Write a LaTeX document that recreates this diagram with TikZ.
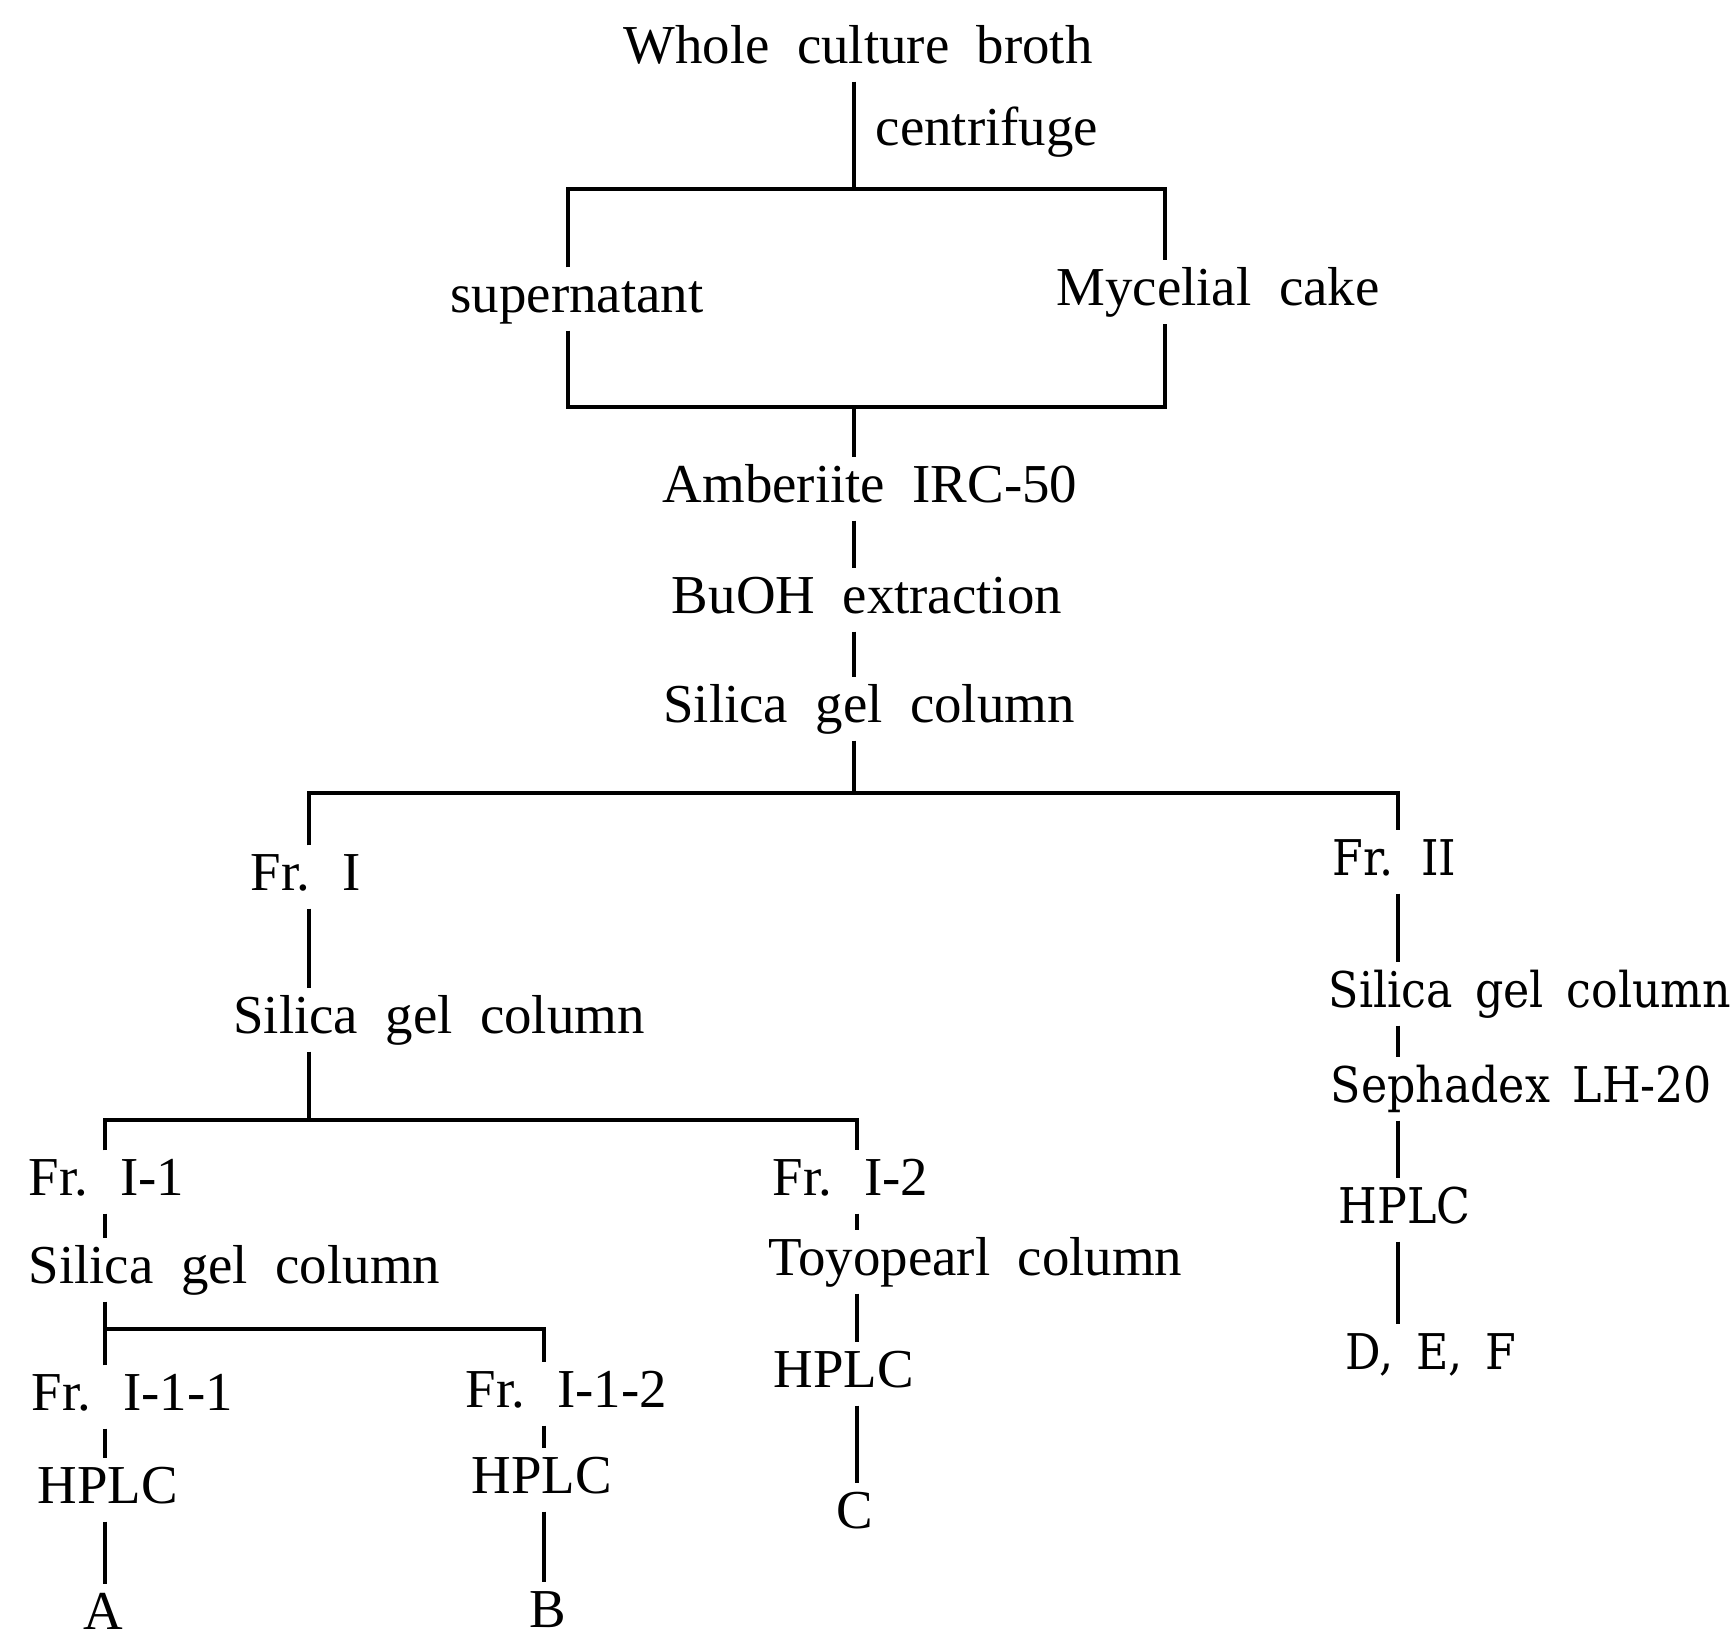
\documentclass[tikz,border=0pt]{standalone}
\usepackage{fontspec}
\setmainfont[WordSpace=2]{Liberation Serif}
\newfontfamily\rfont[FakeStretch=0.9, WordSpace=1.6]{DejaVu Serif}
\begin{document}
\begin{tikzpicture}[x=0.01cm,y=-0.01cm,
  lbl/.style={inner sep=0pt, text height=0.44cm, text depth=0.18cm, font=\fontsize{15.6}{18}\selectfont},
  rlbl/.style={lbl, font=\rfont\fontsize{14}{17}\selectfont},
  ln/.style={line width=0.9pt}]
\useasboundingbox (0,0) rectangle (1736,1636);
% texts
\node[lbl, anchor=base] (whole) at (858,63) {Whole culture broth};
\node[lbl, anchor=base west] (cent) at (875,145) {centrifuge};
\node[lbl, anchor=base] (sup) at (577,312) {supernatant};
\node[lbl, anchor=base] (myc) at (1218,305) {Mycelial cake};
\node[lbl, anchor=base] (amb) at (870,502) {Amberiite IRC-50};
\node[lbl, anchor=base] (buoh) at (867,613) {BuOH extraction};
\node[lbl, anchor=base] (sil0) at (869,722) {Silica gel column};
\node[lbl, anchor=base west] (frI) at (250,890) {Fr. I};
\node[lbl, anchor=base] (silI) at (439,1033) {Silica gel column};
\node[lbl, anchor=base west] (frI1) at (28,1195) {Fr. I-1};
\node[lbl, anchor=base west] (frI2) at (772,1195) {Fr. I-2};
\node[lbl, anchor=base west] (silI1) at (28,1283) {Silica gel column};
\node[lbl, anchor=base west] (toyo) at (768,1275) {Toyopearl column};
\node[lbl, anchor=base west] (frI11) at (31,1410) {Fr. I-1-1};
\node[lbl, anchor=base west] (frI12) at (465,1407) {Fr. I-1-2};
\node[lbl, anchor=base west] (hplcA) at (37,1503) {HPLC};
\node[lbl, anchor=base west] (hplcB) at (471,1493) {HPLC};
\node[lbl, anchor=base west] (hplcC) at (773,1387) {HPLC};
\node[lbl, anchor=base] (A) at (103,1629) {A};
\node[lbl, anchor=base] (B) at (548,1627) {B};
\node[lbl, anchor=base] (C) at (855,1528) {C};
\node[rlbl, anchor=base west] (frII) at (1332,875) {Fr. II};
\node[rlbl, anchor=base west] (silR) at (1328,1007) {Silica gel column};
\node[rlbl, anchor=base west] (seph) at (1330,1102) {Sephadex LH-20};
\node[rlbl, anchor=base west] (hplcR) at (1338,1223) {HPLC};
\node[rlbl, anchor=base west] (def) at (1345,1369) {D, E, F};
% junction points
\coordinate (b1l) at (568,189); \coordinate (b1m) at (854,189); \coordinate (b1r) at (1165,189);
\coordinate (b2l) at (568,407); \coordinate (b2m) at (854,407); \coordinate (b2r) at (1165,407);
\coordinate (b3l) at (309,793); \coordinate (b3m) at (854,793); \coordinate (b3r) at (1398,793);
\coordinate (b4l) at (105,1120); \coordinate (b4m) at (309,1120); \coordinate (b4r) at (857,1120);
\coordinate (b5l) at (105,1329); \coordinate (b5r) at (544,1329);
% connectors
\draw[ln] (b1m |- whole.south) -- (b1m);
\draw[ln] (b1l |- sup.north) -- (b1l) -- (b1r) -- (b1r |- myc.north);
\draw[ln] (b2l |- sup.south) -- (b2l) -- (b2r) -- (b2r |- myc.south);
\draw[ln] (b2m) -- (b2m |- amb.north);
\draw[ln] (b2m |- amb.south) -- (b2m |- buoh.north);
\draw[ln] (b2m |- buoh.south) -- (b2m |- sil0.north);
\draw[ln] (b2m |- sil0.south) -- (b3m);
\draw[ln] (b3l |- frI.north) -- (b3l) -- (b3r) -- (b3r |- frII.north);
\draw[ln] (b3l |- frI.south) -- (b3l |- silI.north);
\draw[ln] (b3l |- silI.south) -- (b4m);
\draw[ln] (b4l |- frI1.north) -- (b4l) -- (b4r) -- (b4r |- frI2.north);
\draw[ln] (b4l |- frI1.south) -- (b4l |- silI1.north);
\draw[ln] (b4l |- silI1.south) -- (b5l);
\draw[ln] (b5l |- frI11.north) -- (b5l) -- (b5r) -- (b5r |- frI12.north);
\draw[ln] (b5l |- frI11.south) -- (b5l |- hplcA.north);
\draw[ln] (b5l |- hplcA.south) -- (b5l |- A.north);
\draw[ln] (b5r |- frI12.south) -- (b5r |- hplcB.north);
\draw[ln] (b5r |- hplcB.south) -- (b5r |- B.north);
\draw[ln] (b4r |- frI2.south) -- (b4r |- toyo.north);
\draw[ln] (b4r |- toyo.south) -- (b4r |- hplcC.north);
\draw[ln] (b4r |- hplcC.south) -- (b4r |- C.north);
\draw[ln] (b3r |- frII.south) -- (b3r |- silR.north);
\draw[ln] (b3r |- silR.south) -- (b3r |- seph.north);
\draw[ln] (b3r |- seph.south) -- (b3r |- hplcR.north);
\draw[ln] (b3r |- hplcR.south) -- (b3r |- def.north);
\end{tikzpicture}
\end{document}
